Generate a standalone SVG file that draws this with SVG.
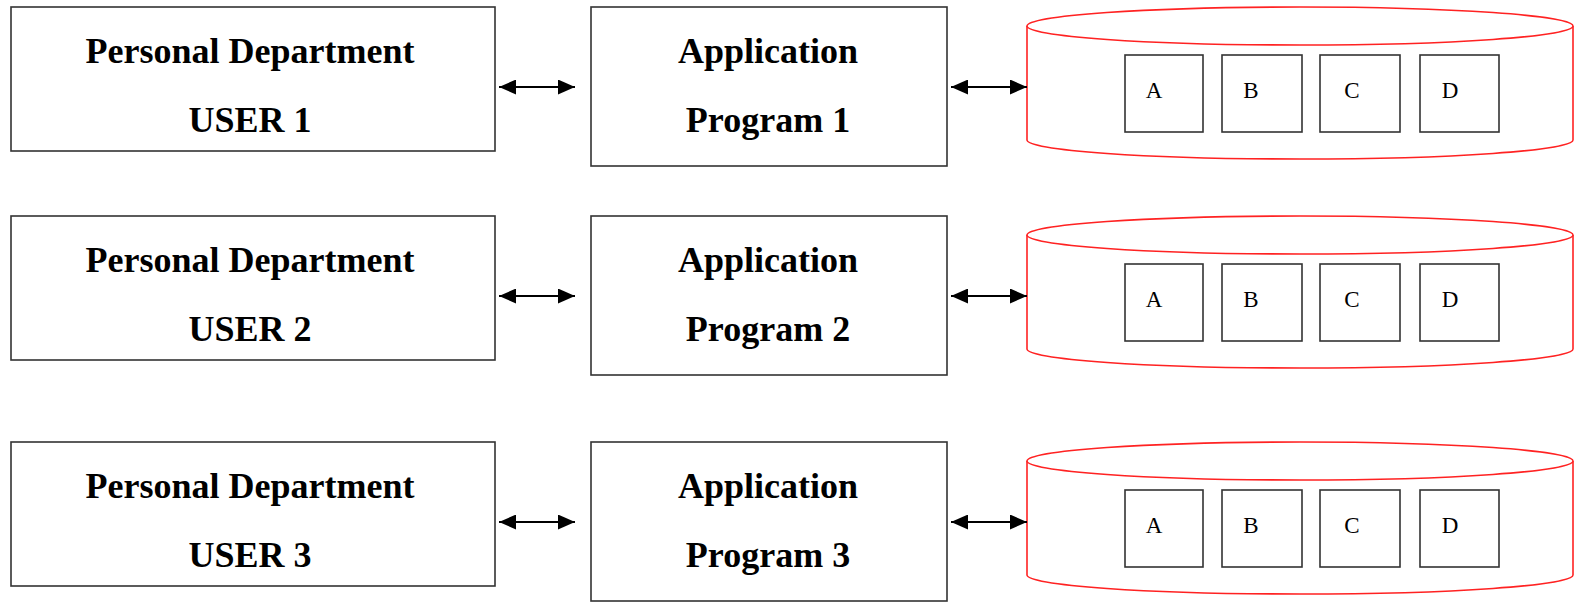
<svg xmlns="http://www.w3.org/2000/svg" width="1576" height="604" viewBox="0 0 1576 604">
<style>
.box{fill:#fff;stroke:#333;stroke-width:1.6}
.cyl{fill:#fff;stroke:#f22;stroke-width:1.6}
.t{font-family:"Liberation Serif","Times New Roman",serif;font-weight:bold;font-size:36px;text-anchor:middle;fill:#000}
.s{font-family:"Liberation Serif","Times New Roman",serif;font-size:23px;text-anchor:middle;fill:#000}
</style>
<defs>
<marker id="ah" viewBox="0 0 10 10" refX="10" refY="5" markerWidth="17" markerHeight="15" markerUnits="userSpaceOnUse" orient="auto-start-reverse" preserveAspectRatio="none">
<path d="M0,0 L10,5 L0,10 z" fill="#000"/>
</marker>
</defs>

<g id="user1"><rect class="box" x="11" y="7" width="484" height="144"/><text class="t" x="250" y="63">Personal Department</text><text class="t" x="250" y="132">USER 1</text></g>
<g id="app1"><rect class="box" x="591" y="7" width="356" height="159"/><text class="t" x="768" y="63">Application</text><text class="t" x="768" y="132">Program 1</text></g>
<g id="db1"><path class="cyl" d="M1027,26 L1027,140 A273,19 0 0 0 1573,140 L1573,26"/><ellipse class="cyl" cx="1300" cy="26" rx="273" ry="19"/>
<rect class="box" x="1125" y="55" width="78" height="77"/><rect class="box" x="1222" y="55" width="80" height="77"/><rect class="box" x="1320" y="55" width="80" height="77"/><rect class="box" x="1420" y="55" width="79" height="77"/>
<text class="s" x="1154" y="98">A</text><text class="s" x="1251" y="98">B</text><text class="s" x="1352" y="98">C</text><text class="s" x="1450" y="98">D</text></g>

<g id="user2"><rect class="box" x="11" y="216" width="484" height="144"/><text class="t" x="250" y="272">Personal Department</text><text class="t" x="250" y="341">USER 2</text></g>
<g id="app2"><rect class="box" x="591" y="216" width="356" height="159"/><text class="t" x="768" y="272">Application</text><text class="t" x="768" y="341">Program 2</text></g>
<g id="db2"><path class="cyl" d="M1027,235 L1027,349 A273,19 0 0 0 1573,349 L1573,235"/><ellipse class="cyl" cx="1300" cy="235" rx="273" ry="19"/>
<rect class="box" x="1125" y="264" width="78" height="77"/><rect class="box" x="1222" y="264" width="80" height="77"/><rect class="box" x="1320" y="264" width="80" height="77"/><rect class="box" x="1420" y="264" width="79" height="77"/>
<text class="s" x="1154" y="307">A</text><text class="s" x="1251" y="307">B</text><text class="s" x="1352" y="307">C</text><text class="s" x="1450" y="307">D</text></g>

<g id="user3"><rect class="box" x="11" y="442" width="484" height="144"/><text class="t" x="250" y="498">Personal Department</text><text class="t" x="250" y="567">USER 3</text></g>
<g id="app3"><rect class="box" x="591" y="442" width="356" height="159"/><text class="t" x="768" y="498">Application</text><text class="t" x="768" y="567">Program 3</text></g>
<g id="db3"><path class="cyl" d="M1027,461 L1027,575 A273,19 0 0 0 1573,575 L1573,461"/><ellipse class="cyl" cx="1300" cy="461" rx="273" ry="19"/>
<rect class="box" x="1125" y="490" width="78" height="77"/><rect class="box" x="1222" y="490" width="80" height="77"/><rect class="box" x="1320" y="490" width="80" height="77"/><rect class="box" x="1420" y="490" width="79" height="77"/>
<text class="s" x="1154" y="533">A</text><text class="s" x="1251" y="533">B</text><text class="s" x="1352" y="533">C</text><text class="s" x="1450" y="533">D</text></g>

<g id="connectors" stroke="#000" stroke-width="2" fill="none" marker-start="url(#ah)" marker-end="url(#ah)">
<line x1="499" y1="87" x2="575" y2="87"/>
<line x1="951" y1="87" x2="1027" y2="87"/>
<line x1="499" y1="296" x2="575" y2="296"/>
<line x1="951" y1="296" x2="1027" y2="296"/>
<line x1="499" y1="522" x2="575" y2="522"/>
<line x1="951" y1="522" x2="1027" y2="522"/>
</g>
</svg>
